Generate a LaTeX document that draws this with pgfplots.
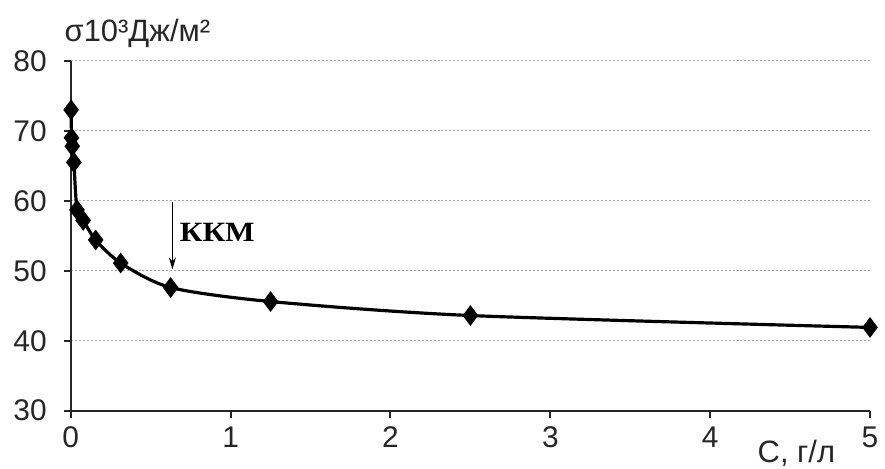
\documentclass[border=0pt]{standalone}
\usepackage{fontspec}
\setmainfont{Liberation Sans}
\newfontfamily\serifbold{Liberation Serif}
\usepackage{pgfplots}
\pgfplotsset{compat=1.18}
\usetikzlibrary{arrows.meta}
\begin{document}
\begin{tikzpicture}
\begin{axis}[
  scale only axis,
  width=401pt, height=175.5pt,
  xmin=0, xmax=5, ymin=30, ymax=80,
  xtick={0,1,2,3,4,5}, ytick={30,40,50,60,70,80},
  axis x line*=bottom, axis y line*=left,
  axis line style={line width=1.1pt, black!85},
  tick align=outside, major tick length=3.5pt,
  tick style={line width=1pt, black!85},
  ymajorgrids,
  grid style={gray!70, line width=0.6pt, dash pattern=on 1pt off 1pt},
  /pgf/number format/assume math mode=true,
  tick label style={font=\fontsize{15}{17}\selectfont, text=black!85},
  yticklabel style={xshift=-5pt},
  xticklabel style={yshift=-1pt},
  clip=false,
]
\path (rel axis cs:-0.0885,-0.165) rectangle (rel axis cs:1.015,1.174);
\addplot[black, line width=1.6pt, smooth, tension=0.45, mark=diamond*, mark size=3.9pt, mark options={solid, fill=black}] coordinates {
(0.0024,73.0)
(0.0049,69.0)
(0.0098,67.8)
(0.0195,65.5)
(0.039,58.7)
(0.078,57.2)
(0.156,54.4)
(0.3125,51.1)
(0.625,47.6)
(1.25,45.6)
(2.5,43.6)
(5,41.9)
};
\draw[line width=0.6pt, -{Stealth[length=6pt,width=3.5pt]}] (axis cs:0.636,59.8) -- (axis cs:0.636,50.2);
\node[anchor=west, xscale=1.12, inner sep=0pt] at (axis cs:0.68,55.5) {\serifbold\bfseries\fontsize{14}{16}\selectfont ККМ};
\node[anchor=base west, inner sep=0pt, font=\fontsize{15.5}{17}\selectfont, text=black!85] at (rel axis cs:-0.008,1.054) {σ10³Дж/м²};
\node[anchor=base west, inner sep=0pt, font=\fontsize{15.5}{17}\selectfont, text=black!85] at (rel axis cs:0.859,-0.148) {C, г/л};
\end{axis}
\end{tikzpicture}
\end{document}
